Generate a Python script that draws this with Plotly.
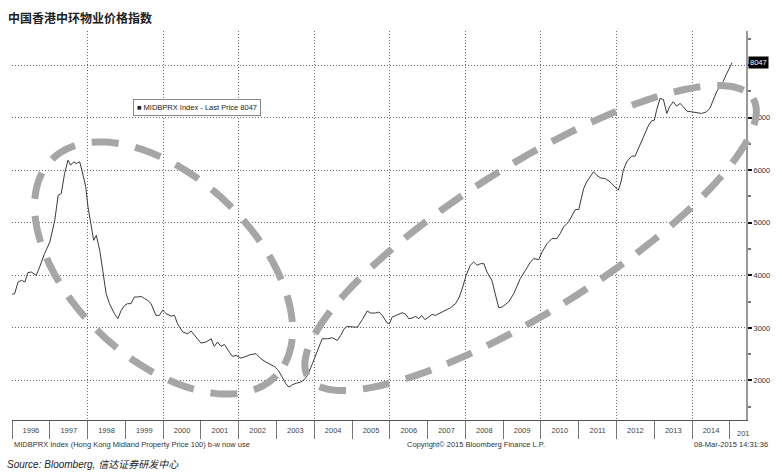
import numpy as np
import pandas as pd
import plotly.graph_objects as go

# ---------------- data ----------------
title_text = "中国香港中环物业价格指数"
legend_text = "■ MIDBPRX Index - Last Price 8047"
last_price = 8047

t_year = [1996.00,1996.07,1996.16,1996.25,1996.34,1996.42,1996.51,1996.64,1996.73,1996.86,
          1997.00,1997.13,1997.22,1997.30,1997.39,1997.48,1997.55,1997.63,1997.70,1997.79,1997.86,1997.95,
          1998.01,1998.10,1998.16,1998.23,1998.32,1998.40,1998.49,1998.58,1998.71,1998.80,1998.89,1998.98,
          1999.06,1999.15,1999.24,1999.33,1999.42,1999.51,1999.59,1999.68,1999.81,1999.90,1999.99,
          2000.08,2000.21,2000.30,2000.38,2000.52,2000.65,2000.74,2000.87,
          2001.00,2001.13,2001.27,2001.35,2001.44,2001.53,2001.62,2001.75,2001.84,2001.93,
          2002.06,2002.19,2002.32,2002.46,2002.59,2002.72,2002.85,2002.94,
          2003.05,2003.14,2003.25,2003.33,2003.42,2003.53,2003.64,2003.73,2003.82,2003.95,
          2004.08,2004.21,2004.35,2004.48,2004.61,2004.70,2004.79,2004.87,
          2005.05,2005.14,2005.27,2005.40,2005.49,2005.62,2005.71,2005.80,2005.93,2005.99,
          2006.06,2006.20,2006.33,2006.42,2006.50,2006.59,2006.68,2006.77,2006.84,2006.93,
          2007.03,2007.12,2007.21,2007.34,2007.47,2007.61,2007.74,2007.84,2007.93,
          2008.02,2008.13,2008.22,2008.31,2008.40,2008.49,2008.57,2008.70,2008.79,2008.88,2008.97,
          2009.14,2009.28,2009.45,2009.59,2009.72,2009.81,2009.94,
          2010.03,2010.16,2010.29,2010.42,2010.51,2010.60,2010.73,2010.82,2010.91,
          2011.00,2011.07,2011.13,2011.21,2011.30,2011.39,2011.48,2011.57,2011.70,2011.83,2011.96,
          2012.05,2012.12,2012.18,2012.27,2012.40,2012.49,2012.58,2012.67,2012.76,2012.85,2012.93,
          2013.00,2013.06,2013.15,2013.24,2013.33,2013.40,2013.50,2013.59,2013.68,2013.77,2013.86,2013.99,
          2014.12,2014.25,2014.38,2014.47,2014.56,2014.65,2014.74,2014.82,2014.91,
          2015.06]

price = [3638,3652,3873,3905,3873,4051,4063,4000,4159,4413,
         4635,5048,5524,5556,5937,6191,6096,6159,6127,6159,5968,5683,
         5302,4921,4667,4762,4477,4096,3652,3461,3271,3175,3334,3429,
         3461,3461,3588,3588,3600,3556,3524,3461,3238,3238,3340,
         3271,3225,3238,3080,2920,2889,2939,2825,
         2711,2730,2794,2648,2730,2648,2686,2539,2457,2476,
         2425,2457,2495,2508,2413,2349,2305,2267,
         2191,2063,1937,1873,1918,1949,1968,2013,2095,2318,
         2572,2794,2794,2813,2762,2857,2985,3029,
         3016,3016,3156,3321,3283,3283,3302,3238,3092,3080,
         3206,3257,3290,3257,3175,3187,3219,3175,3238,3156,
         3206,3257,3238,3283,3334,3385,3461,3588,3778,
         4000,4191,4254,4191,4222,4222,4063,3905,3619,3385,3397,
         3493,3652,3937,4096,4254,4318,4299,
         4445,4604,4699,4699,4795,4921,5016,5143,5251,
         5251,5460,5651,5778,5873,5968,5905,5854,5842,5778,5683,
         5620,5778,6000,6159,6267,6267,6413,6540,6699,6857,6940,
         6952,7143,7365,7346,7079,7206,7302,7219,7270,7206,7124,7111,
         7092,7079,7111,7175,7334,7493,7588,7683,7829,
         8047]

y_ticks = [2000, 3000, 4000, 5000, 6000, 7000, 8000]
y_tick_labels = ["2000", "3000", "4000", "5000", "6000", "7000", ""]  # 8000 hidden under last-price tag
footer_left = "MIDBPRX Index (Hong Kong Midland Property Price 100) b-w now use"
footer_mid = "Copyright© 2015 Bloomberg Finance L.P."
footer_right = "08-Mar-2015 14:31:36"
source_text = "Source: Bloomberg, 信达证券研发中心"

assert len(t_year) == len(price)

# ---------------- geometry ----------------
W, H = 782, 472
ML, MR, MT, MB = 12, 34, 31, 52
PW = W - ML - MR
PH = H - MT - MB


def px(x):
    return (x - ML) / PW


def py(y):
    return (MT + PH - y) / PH


def to_date(v):
    yr = int(np.floor(v))
    frac = v - yr
    s = pd.Timestamp(year=yr, month=1, day=1)
    e = pd.Timestamp(year=yr + 1, month=1, day=1)
    return s + (e - s) * frac


dates = [to_date(v) for v in t_year]
x_range = ["1996-01-01", "2015-06-06"]
y_range = [1248, 8648]

FONT = "Liberation Sans, Arial, sans-serif"
CJK = "Noto Sans CJK SC, sans-serif"
GRID = "#6a6a6a"
GRID_DASH = "1px,2px"

fig = go.Figure()
fig.add_trace(go.Scatter(x=dates, y=price, mode="lines",
                         line=dict(color="#3a3a3a", width=1),
                         hoverinfo="skip", showlegend=False))
# helper trace for the 2-year vertical grid axis
fig.add_trace(go.Scatter(x=[dates[0]], y=[price[0]], xaxis="x2", mode="markers",
                         marker=dict(opacity=0), hoverinfo="skip", showlegend=False))

# decorative dashed ellipses (pixel-space center, semi-axes, angle)
ellipses = [dict(cx=164, cy=268, a=156, b=91, ang=43.5),
            dict(cx=532, cy=238, a=263, b=73, ang=-32)]
shapes = []
for e in ellipses:
    th = np.radians(e["ang"])
    tt = np.linspace(0, 2 * np.pi, 241)
    X = e["cx"] + e["a"] * np.cos(tt) * np.cos(th) - e["b"] * np.sin(tt) * np.sin(th)
    Y = e["cy"] + e["a"] * np.cos(tt) * np.sin(th) + e["b"] * np.sin(tt) * np.cos(th)
    pts = [f"{px(x):.5f},{py(y):.5f}" for x, y in zip(X, Y)]
    path = "M" + " L".join(pts) + " Z"
    shapes.append(dict(type="path", xref="paper", yref="paper", path=path,
                       line=dict(color="#a6a6a6", width=7, dash="27px,17px"),
                       layer="above"))

annotations = [
    dict(text=title_text, xref="paper", yref="paper", x=px(6), y=py(17),
         xanchor="left", yanchor="middle", showarrow=False,
         font=dict(family=CJK, size=12, color="#222", weight=700)),
    dict(text=legend_text, xref="paper", yref="paper", x=px(133), y=py(99),
         xanchor="left", yanchor="top", showarrow=False,
         font=dict(family=FONT, size=7.5, color="#222"),
         bordercolor="#888", borderwidth=1, borderpad=3, bgcolor="white"),
    dict(text=str(last_price), xref="paper", yref="y", x=1, y=last_price,
         xanchor="left", yanchor="middle", xshift=2, showarrow=False,
         font=dict(family=FONT, size=7.5, color="white"),
         bgcolor="black", borderpad=1),
    dict(text="201", xref="paper", yref="paper", x=px(737), y=py(434),
         xanchor="left", yanchor="middle", showarrow=False,
         font=dict(family=FONT, size=7.5, color="#444")),
    dict(text=footer_left, xref="paper", yref="paper", x=px(12), y=py(444),
         xanchor="left", yanchor="middle", showarrow=False,
         font=dict(family=FONT, size=7.5, color="#333")),
    dict(text=footer_mid, xref="paper", yref="paper", x=px(406), y=py(444),
         xanchor="left", yanchor="middle", showarrow=False,
         font=dict(family=FONT, size=7.5, color="#333")),
    dict(text=footer_right, xref="paper", yref="paper", x=px(772), y=py(444),
         xanchor="right", yanchor="middle", showarrow=False,
         font=dict(family=FONT, size=7.5, color="#333")),
    dict(text=source_text, xref="paper", yref="paper", x=px(5), y=py(464),
         xanchor="left", yanchor="middle", showarrow=False,
         font=dict(family="Liberation Sans, Noto Sans CJK SC, sans-serif", size=10,
                   color="#222", style="italic")),
]

fig.update_layout(
    width=W, height=H,
    margin=dict(l=ML, r=MR, t=MT, b=MB, pad=0),
    paper_bgcolor="white", plot_bgcolor="white",
    showlegend=False,
    xaxis=dict(type="date", range=x_range, tick0="1996-01-01", dtick="M12",
               tickformat="%Y", ticklabelmode="period",
               ticks="outside", ticklen=18, tickwidth=1, tickcolor="#777",
               ticklabelstandoff=-15,
               showgrid=False, zeroline=False,
               showline=True, linecolor="#555", linewidth=1,
               tickfont=dict(family=FONT, size=7.5, color="#444")),
    xaxis2=dict(type="date", range=x_range, overlaying="x", anchor="y",
                tick0="1996-01-01", dtick="M24",
                showgrid=True, griddash=GRID_DASH, gridcolor=GRID, gridwidth=1,
                showticklabels=False, ticks="", showline=False, zeroline=False),
    yaxis=dict(side="right", range=y_range, tickmode="array", tickvals=y_ticks,
               ticktext=y_tick_labels,
               ticks="outside", ticklen=4, tickwidth=2, tickcolor="#111",
               showgrid=True, griddash=GRID_DASH, gridcolor=GRID, gridwidth=1,
               showline=True, linecolor="#999", linewidth=2, zeroline=False,
               minor=dict(tickmode="linear", tick0=0, dtick=500, ticks="outside",
                          ticklen=3, tickcolor="#777", showgrid=False),
               tickfont=dict(family=FONT, size=7.5, color="#333")),
    shapes=shapes,
    annotations=annotations,
)

fig.write_html("out.html",
               config={"displayModeBar": False},
               post_script="document.body.style.margin='0';document.body.style.overflow='hidden';")
